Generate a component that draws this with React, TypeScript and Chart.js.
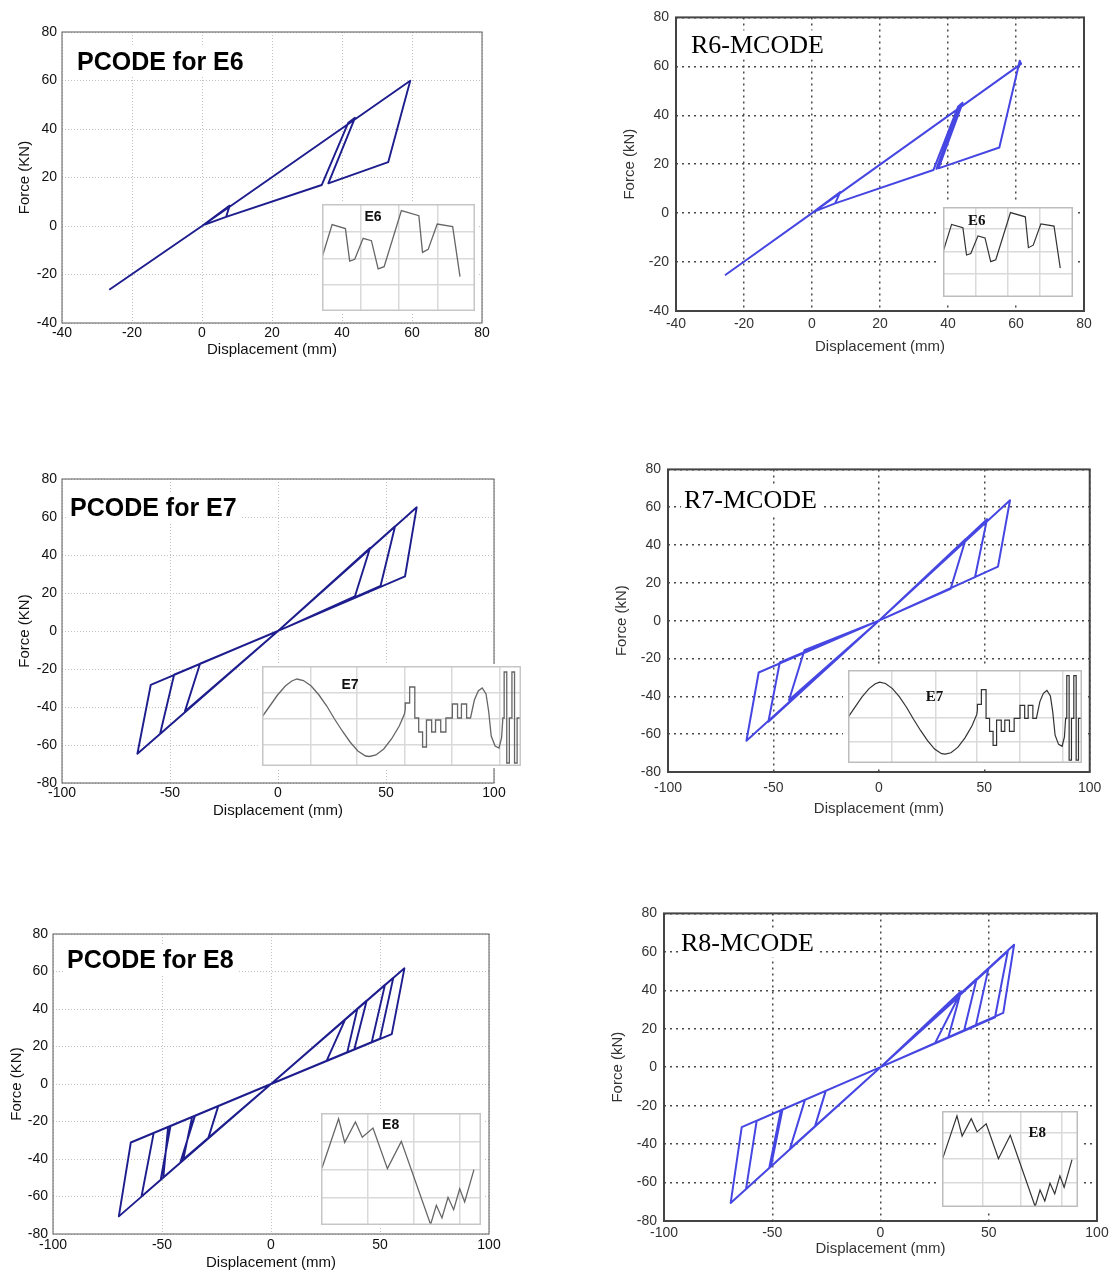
import React, { useEffect, useRef } from 'react';
import { Chart, registerables } from 'chart.js';
Chart.register(...registerables);

// ---------- main hysteresis data (displacement mm, force kN) ----------
const PCODE_E6_X = [0, 7.9, 6.9, 0.8, 6.9, 34.2, 41.8, 43.7, 36.1, 53.2, 59.5, 0, -26.5];
const PCODE_E6_Y = [0, 8.4, 3.8, 0.6, 3.8, 16.9, 42.6, 44.6, 17.6, 26.3, 59.9, 0, -26.3];

const R6_X = [0, 8.3, 6.8, 1.0, 6.8, 35.7, 43.0, 44.3, 36.6, 43.6, 44.3, 37.2, 55.1, 61.1, 61.5, 0, -25.6];
const R6_Y = [0, 8.6, 4.0, 0.8, 4.0, 17.6, 43.6, 45.1, 18.1, 44.4, 45.1, 18.3, 26.8, 62.3, 61.0, 0, -25.4];

const PCODE_E7_X = [0, 42.6, 35.6, 0, -36.1, -43.1, 0, 54.2, 47.5, 0, -48.1, -54.6, 0, 64.2, 58.8, 0, -58.9, -65.1, 0];
const PCODE_E7_Y = [0, 43.7, 18.2, 0, -17.2, -42.3, 0, 55.1, 23.8, 0, -23.0, -54.2, 0, 65.1, 28.7, 0, -28.3, -64.6, 0];

const R7_X = [0, 41.2, 34.0, 0, -35.3, -42.6, 0, 51.3, 45.6, 0, -47.0, -52.4, 0, 62.2, 56.5, 0, -57.0, -62.8, 0];
const R7_Y = [0, 43.2, 16.8, 0, -15.6, -41.9, 0, 53.7, 23.0, 0, -22.1, -53.4, 0, 63.7, 28.6, 0, -27.4, -63.5, 0];

const PCODE_E8_X = [0, 34.0, 25.5, 0, 39.6, 35.0, 0, 43.9, 38.2, 0, 52.3, 46.2, 0, 56.1, 50.0, 0, 61.2, 55.4, 0,
  -24.2, -28.8, 0, -34.9, -41.5, 0, -36.2, -40.3, 0, -46.1, -50.6, 0, -47.2, -49.4, 0, -53.8, -59.4, 0, -64.3, -69.8, 0];
const PCODE_E8_Y = [0, 34.3, 12.3, 0, 40.0, 17.0, 0, 44.5, 18.4, 0, 53.0, 22.3, 0, 56.7, 24.2, 0, 61.7, 26.6, 0,
  -11.8, -29.0, 0, -17.0, -41.5, 0, -17.6, -40.5, 0, -22.4, -51.0, 0, -22.9, -49.8, 0, -26.1, -60.0, 0, -31.2, -70.6, 0];

const R8_X = [0, 36.0, 25.2, 0, 37.2, 31.3, 0, 44.4, 38.6, 0, 49.8, 44.0, 0, 58.8, 52.9, 0, 61.7, 56.7, 0,
  -25.3, -30.3, 0, -34.9, -41.8, 0, -45.3, -50.6, 0, -46.0, -51.4, 0, -57.2, -62.1, 0, -64.1, -69.2, 0];
const R8_Y = [0, 36.5, 12.5, 0, 39.5, 15.5, 0, 46.0, 19.0, 0, 51.0, 21.5, 0, 60.3, 26.0, 0, 63.7, 28.3, 0,
  -12.3, -30.9, 0, -17.0, -42.4, 0, -22.1, -51.6, 0, -22.4, -52.4, 0, -27.9, -63.3, 0, -31.2, -70.6, 0];

// ---------- inset ground-motion records (normalised time %, amplitude %) ----------
const E6_T = [0, 6.6, 15.3, 18.1, 21.4, 26.9, 32.3, 36.7, 40.6, 51.9, 63.3, 65.7, 69.4, 75.3, 85.4, 90.2];
const E6_A = [50, 80.7, 77, 46.7, 48.3, 67.9, 65.7, 39.3, 41.4, 93.8, 89.1, 54.8, 57.6, 81.3, 78.8, 32.1];

const E7_T = [0, 3, 6, 9, 11.5, 13.5, 16, 19, 22, 25, 28, 31, 34, 37, 40, 41.5, 44, 47, 50, 53, 55,
  55.3, 55.3, 57, 57, 59, 59, 60.5, 60.5, 62, 62, 63.5, 63.5, 65.5, 65.5, 67, 67, 69, 69, 71, 71, 73.5, 73.5, 75.5, 75.5, 77, 77, 79, 79,
  80.5, 82, 83.5, 85, 86.5, 87.5, 88.5, 90, 91.5, 92.5, 93,
  93.5, 93.5, 94.5, 94.5, 95.5, 95.5, 96.5, 96.5, 97.5, 97.5, 98.5, 98.5, 100];
const E7_A = [49, 60, 71, 80, 85, 87, 85.5, 80, 71, 60, 47, 35, 24, 15, 10, 9.5, 11, 17, 27, 40, 52,
  57, 63, 63, 79, 79, 48, 48, 34, 34, 19, 19, 46, 46, 34, 34, 46, 46, 34, 34, 48, 48, 62, 62, 48, 48, 62, 62, 48,
  48, 66, 75, 78, 72, 55, 30, 20, 18, 28, 48,
  48, 94, 94, 3, 3, 48, 48, 94, 94, 3, 3, 48, 48];

const E8_T = [0.6, 11, 14.8, 21.5, 25.8, 32.5, 41.5, 50.2, 68.5, 72.1, 75.6, 79.4, 82.9, 86.7, 89.8, 95.6];
const E8_A = [50.9, 94.9, 73.8, 92, 78.3, 86.6, 50.3, 74.7, 0.5, 17.6, 6.3, 24.7, 13.7, 32.4, 20.5, 49.4];

// inset grid-line positions
const GX_P6 = [25.3, 50.4, 75.5]; const GY_P6 = [24.3, 49.2, 74.1];
const GX_R6 = [24.9, 49.5, 74.4]; const GY_R6 = [25.9, 50.7, 75.9];
const GX_P7 = [18.7, 36.7, 55, 73.4, 91.8]; const GY_P7 = [21, 47.7, 73.3];
const GX_R7 = [18.9, 37.3, 55.2, 73.3, 91.7]; const GY_R7 = [23.2, 49, 75];
const GX_P8 = [29.4, 58.1, 86.7]; const GY_P8 = [24.7, 49.4, 74.7];
const GX_R8 = [30, 58, 88]; const GY_R8 = [25, 50, 77];

const SANS = "'Liberation Sans', Arial, sans-serif";
const SERIF = "'Liberation Serif', 'Times New Roman', serif";

const STY: any = {
  P: {
    line: '#1d1d8e', lw: 1.9, grid: '#c2c2c2', gridW: 1, dash: [1, 2], frame: '#5a5a5a', frameW: 1,
    tick: '#111', titleFont: `bold 25px ${SANS}`, capH: 18,
    insetLine: '#666', insetLW: 1.3, insetGrid: '#d9d9d9', insetFrame: '#c6c6c6',
    insetFont: `bold 14px ${SANS}`, halo: 2,
  },
  R: {
    line: '#4646e2', lw: 2, grid: '#4a4a4a', gridW: 1.5, dash: [2, 4], frame: '#444', frameW: 2,
    tick: '#333', titleFont: `26px ${SERIF}`, capH: 18,
    insetLine: '#333', insetLW: 1.2, insetGrid: '#dadada', insetFrame: '#bdbdbd',
    insetFont: `bold 15px ${SERIF}`, halo: 5,
  },
};

interface PanelDef {
  style: 'P' | 'R';
  plot: [number, number, number, number];
  xr: [number, number]; xs: number; yr: [number, number]; ys: number;
  X: number[]; Y: number[];
  title: string; tdx: number; tdy: number;
  xTitle: string; yTitle: string;
  yTitleOff: number; xTitleOff: number; xTickOff: number; yTickPad: number;
  inset: { box: [number, number, number, number]; T: number[]; A: number[]; gx: number[]; gy: number[]; label: string; lx: number; ly: number };
}

const PANELS: PanelDef[] = [
  {
    style: 'P', plot: [62, 32, 482, 323], xr: [-40, 80], xs: 20, yr: [-40, 80], ys: 20,
    X: PCODE_E6_X, Y: PCODE_E6_Y, title: 'PCODE for E6', tdx: 15, tdy: 38,
    xTitle: 'Displacement (mm)', yTitle: 'Force (KN)', yTitleOff: 37, xTitleOff: 27, xTickOff: 10, yTickPad: 5,
    inset: { box: [322, 204, 153, 107], T: E6_T, A: E6_A, gx: GX_P6, gy: GY_P6, label: 'E6', lx: 0.333, ly: 0.12 },
  },
  {
    style: 'R', plot: [676, 16, 1084, 311], xr: [-40, 80], xs: 20, yr: [-40, 80], ys: 20,
    X: R6_X, Y: R6_Y, title: 'R6-MCODE', tdx: 15, tdy: 36,
    xTitle: 'Displacement (mm)', yTitle: 'Force (kN)', yTitleOff: 46, xTitleOff: 36, xTickOff: 13, yTickPad: 7,
    inset: { box: [943, 207, 130, 90], T: E6_T, A: E6_A, gx: GX_R6, gy: GY_R6, label: 'E6', lx: 0.26, ly: 0.16 },
  },
  {
    style: 'P', plot: [62, 479, 494, 783], xr: [-100, 100], xs: 50, yr: [-80, 80], ys: 20,
    X: PCODE_E7_X, Y: PCODE_E7_Y, title: 'PCODE for E7', tdx: 8, tdy: 37,
    xTitle: 'Displacement (mm)', yTitle: 'Force (KN)', yTitleOff: 37, xTitleOff: 28, xTickOff: 10, yTickPad: 5,
    inset: { box: [262, 666, 259, 100], T: E7_T, A: E7_A, gx: GX_P7, gy: GY_P7, label: 'E7', lx: 0.34, ly: 0.19 },
  },
  {
    style: 'R', plot: [668, 468, 1091, 772], xr: [-100, 100], xs: 50, yr: [-80, 80], ys: 20,
    X: R7_X, Y: R7_Y, title: 'R7-MCODE', tdx: 16, tdy: 39,
    xTitle: 'Displacement (mm)', yTitle: 'Force (kN)', yTitleOff: 46, xTitleOff: 37, xTickOff: 16, yTickPad: 7,
    inset: { box: [848, 670, 234, 93], T: E7_T, A: E7_A, gx: GX_R7, gy: GY_R7, label: 'E7', lx: 0.37, ly: 0.29 },
  },
  {
    style: 'P', plot: [53, 934, 489, 1234], xr: [-100, 100], xs: 50, yr: [-80, 80], ys: 20,
    X: PCODE_E8_X, Y: PCODE_E8_Y, title: 'PCODE for E8', tdx: 14, tdy: 34,
    xTitle: 'Displacement (mm)', yTitle: 'Force (KN)', yTitleOff: 36, xTitleOff: 29, xTickOff: 11, yTickPad: 5,
    inset: { box: [321, 1113, 160, 112], T: E8_T, A: E8_A, gx: GX_P8, gy: GY_P8, label: 'E8', lx: 0.435, ly: 0.107 },
  },
  {
    style: 'R', plot: [664, 912, 1097, 1221], xr: [-100, 100], xs: 50, yr: [-80, 80], ys: 20,
    X: R8_X, Y: R8_Y, title: 'R8-MCODE', tdx: 17, tdy: 38,
    xTitle: 'Displacement (mm)', yTitle: 'Force (kN)', yTitleOff: 46, xTitleOff: 28, xTickOff: 12, yTickPad: 7,
    inset: { box: [942, 1111, 136, 96], T: E8_T, A: E8_A, gx: GX_R8, gy: GY_R8, label: 'E8', lx: 0.70, ly: 0.23 },
  },
];

const zip = (xs: number[], ys: number[]) => xs.map((x, i) => ({ x, y: ys[i] }));

const PT = 14;
const PR = 18;

function Panel({ d }: { d: PanelDef }) {
  const ref = useRef<HTMLCanvasElement>(null);
  const iref = useRef<HTMLCanvasElement>(null);
  const s = STY[d.style];
  const [l, t, r, b] = d.plot;
  const W = d.yTitleOff + 9;
  const H = d.xTitleOff + 9;
  const cw = r - l + W + PR;
  const chh = b - t + PT + H;
  const [il, it, iw, ih] = d.inset.box;

  useEffect(() => {
    const tickFont = { family: SANS, size: 14 };
    const titleFont = { family: SANS, size: 15 };
    const decor = {
      id: 'decor',
      afterDraw(chart: any) {
        const { ctx, chartArea: ca } = chart;
        ctx.save();
        ctx.font = s.titleFont;
        const w = ctx.measureText(d.title).width;
        const x = ca.left + d.tdx;
        const y = ca.top + d.tdy;
        ctx.fillStyle = '#fff';
        ctx.fillRect(x - 3, y - s.capH - 5, w + 8, s.capH + 11);
        ctx.fillStyle = '#000';
        ctx.textBaseline = 'alphabetic';
        ctx.textAlign = 'left';
        ctx.fillText(d.title, x, y);
        ctx.setLineDash([]);
        ctx.strokeStyle = s.frame;
        ctx.lineWidth = s.frameW;
        ctx.strokeRect(ca.left, ca.top, ca.right - ca.left, ca.bottom - ca.top);
        ctx.restore();
      },
    };
    const main = new Chart(ref.current as HTMLCanvasElement, {
      type: 'scatter',
      data: {
        datasets: [{
          data: zip(d.X, d.Y), showLine: true, borderColor: s.line, borderWidth: s.lw,
          pointRadius: 0, pointHoverRadius: 0, tension: 0, fill: false, borderJoinStyle: 'round',
        } as any],
      },
      options: {
        animation: false, responsive: false, events: [],
        layout: { padding: { top: PT, right: PR, left: 0, bottom: 0 } },
        plugins: { legend: { display: false }, tooltip: { enabled: false } },
        scales: {
          x: {
            type: 'linear', min: d.xr[0], max: d.xr[1],
            ticks: { stepSize: d.xs, color: s.tick, font: tickFont, padding: d.xTickOff - 8.4, maxRotation: 0, autoSkip: false },
            grid: { color: s.grid, lineWidth: s.gridW, drawTicks: false },
            border: { display: false, dash: s.dash },
            title: { display: true, text: d.xTitle, color: s.tick, font: titleFont, padding: 0 },
            afterFit: (sc: any) => { sc.height = H; },
          },
          y: {
            type: 'linear', min: d.yr[0], max: d.yr[1],
            ticks: { stepSize: d.ys, color: s.tick, font: tickFont, padding: d.yTickPad, autoSkip: false },
            grid: { color: s.grid, lineWidth: s.gridW, drawTicks: false },
            border: { display: false, dash: s.dash },
            title: { display: true, text: d.yTitle, color: s.tick, font: titleFont, padding: 0 },
            afterFit: (sc: any) => { sc.width = W; },
          },
        },
      } as any,
      plugins: [decor],
    });

    const idecor = {
      id: 'idecor',
      afterDraw(chart: any) {
        const { ctx, chartArea: ca } = chart;
        ctx.save();
        ctx.font = s.insetFont;
        ctx.fillStyle = '#111';
        ctx.textAlign = 'center';
        ctx.textBaseline = 'middle';
        ctx.fillText(d.inset.label, ca.left + d.inset.lx * (ca.right - ca.left), ca.top + d.inset.ly * (ca.bottom - ca.top));
        ctx.strokeStyle = s.insetFrame;
        ctx.lineWidth = 1.5;
        ctx.strokeRect(ca.left + 0.75, ca.top + 0.75, ca.right - ca.left - 1.5, ca.bottom - ca.top - 1.5);
        ctx.restore();
      },
    };
    const gx = d.inset.gx;
    const gy = d.inset.gy;
    const inset = new Chart(iref.current as HTMLCanvasElement, {
      type: 'scatter',
      data: {
        datasets: [{
          data: zip(d.inset.T, d.inset.A), showLine: true, borderColor: s.insetLine, borderWidth: s.insetLW,
          pointRadius: 0, pointHoverRadius: 0, tension: 0, fill: false,
        } as any],
      },
      options: {
        animation: false, responsive: false, events: [],
        layout: { padding: 0 },
        plugins: { legend: { display: false }, tooltip: { enabled: false } },
        scales: {
          x: {
            type: 'linear', min: 0, max: 100,
            ticks: { display: false },
            grid: { color: s.insetGrid, lineWidth: 1.5, drawTicks: false },
            border: { display: false },
            afterBuildTicks: (sc: any) => { sc.ticks = gx.map((v) => ({ value: v })); },
            afterFit: (sc: any) => { sc.height = 0; },
          },
          y: {
            type: 'linear', min: 0, max: 100,
            ticks: { display: false },
            grid: { color: s.insetGrid, lineWidth: 1.5, drawTicks: false },
            border: { display: false },
            afterBuildTicks: (sc: any) => { sc.ticks = gy.map((v) => ({ value: v })); },
            afterFit: (sc: any) => { sc.width = 0; },
          },
        },
      } as any,
      plugins: [idecor],
    });
    return () => { main.destroy(); inset.destroy(); };
  }, []);

  return (
    <>
      <canvas ref={ref} width={cw} height={chh}
        style={{ position: 'absolute', left: l - W, top: t - PT, width: cw, height: chh }} />
      <canvas ref={iref} width={iw} height={ih}
        style={{ position: 'absolute', left: il, top: it, width: iw, height: ih, background: '#fff', boxShadow: `0 0 0 ${s.halo}px #fff` }} />
    </>
  );
}

export default function App() {
  return (
    <div style={{ position: 'absolute', left: 0, top: 0, width: 1115, height: 1273, background: '#fff', overflow: 'hidden' }}>
      {PANELS.map((d, i) => <Panel key={i} d={d} />)}
    </div>
  );
}
